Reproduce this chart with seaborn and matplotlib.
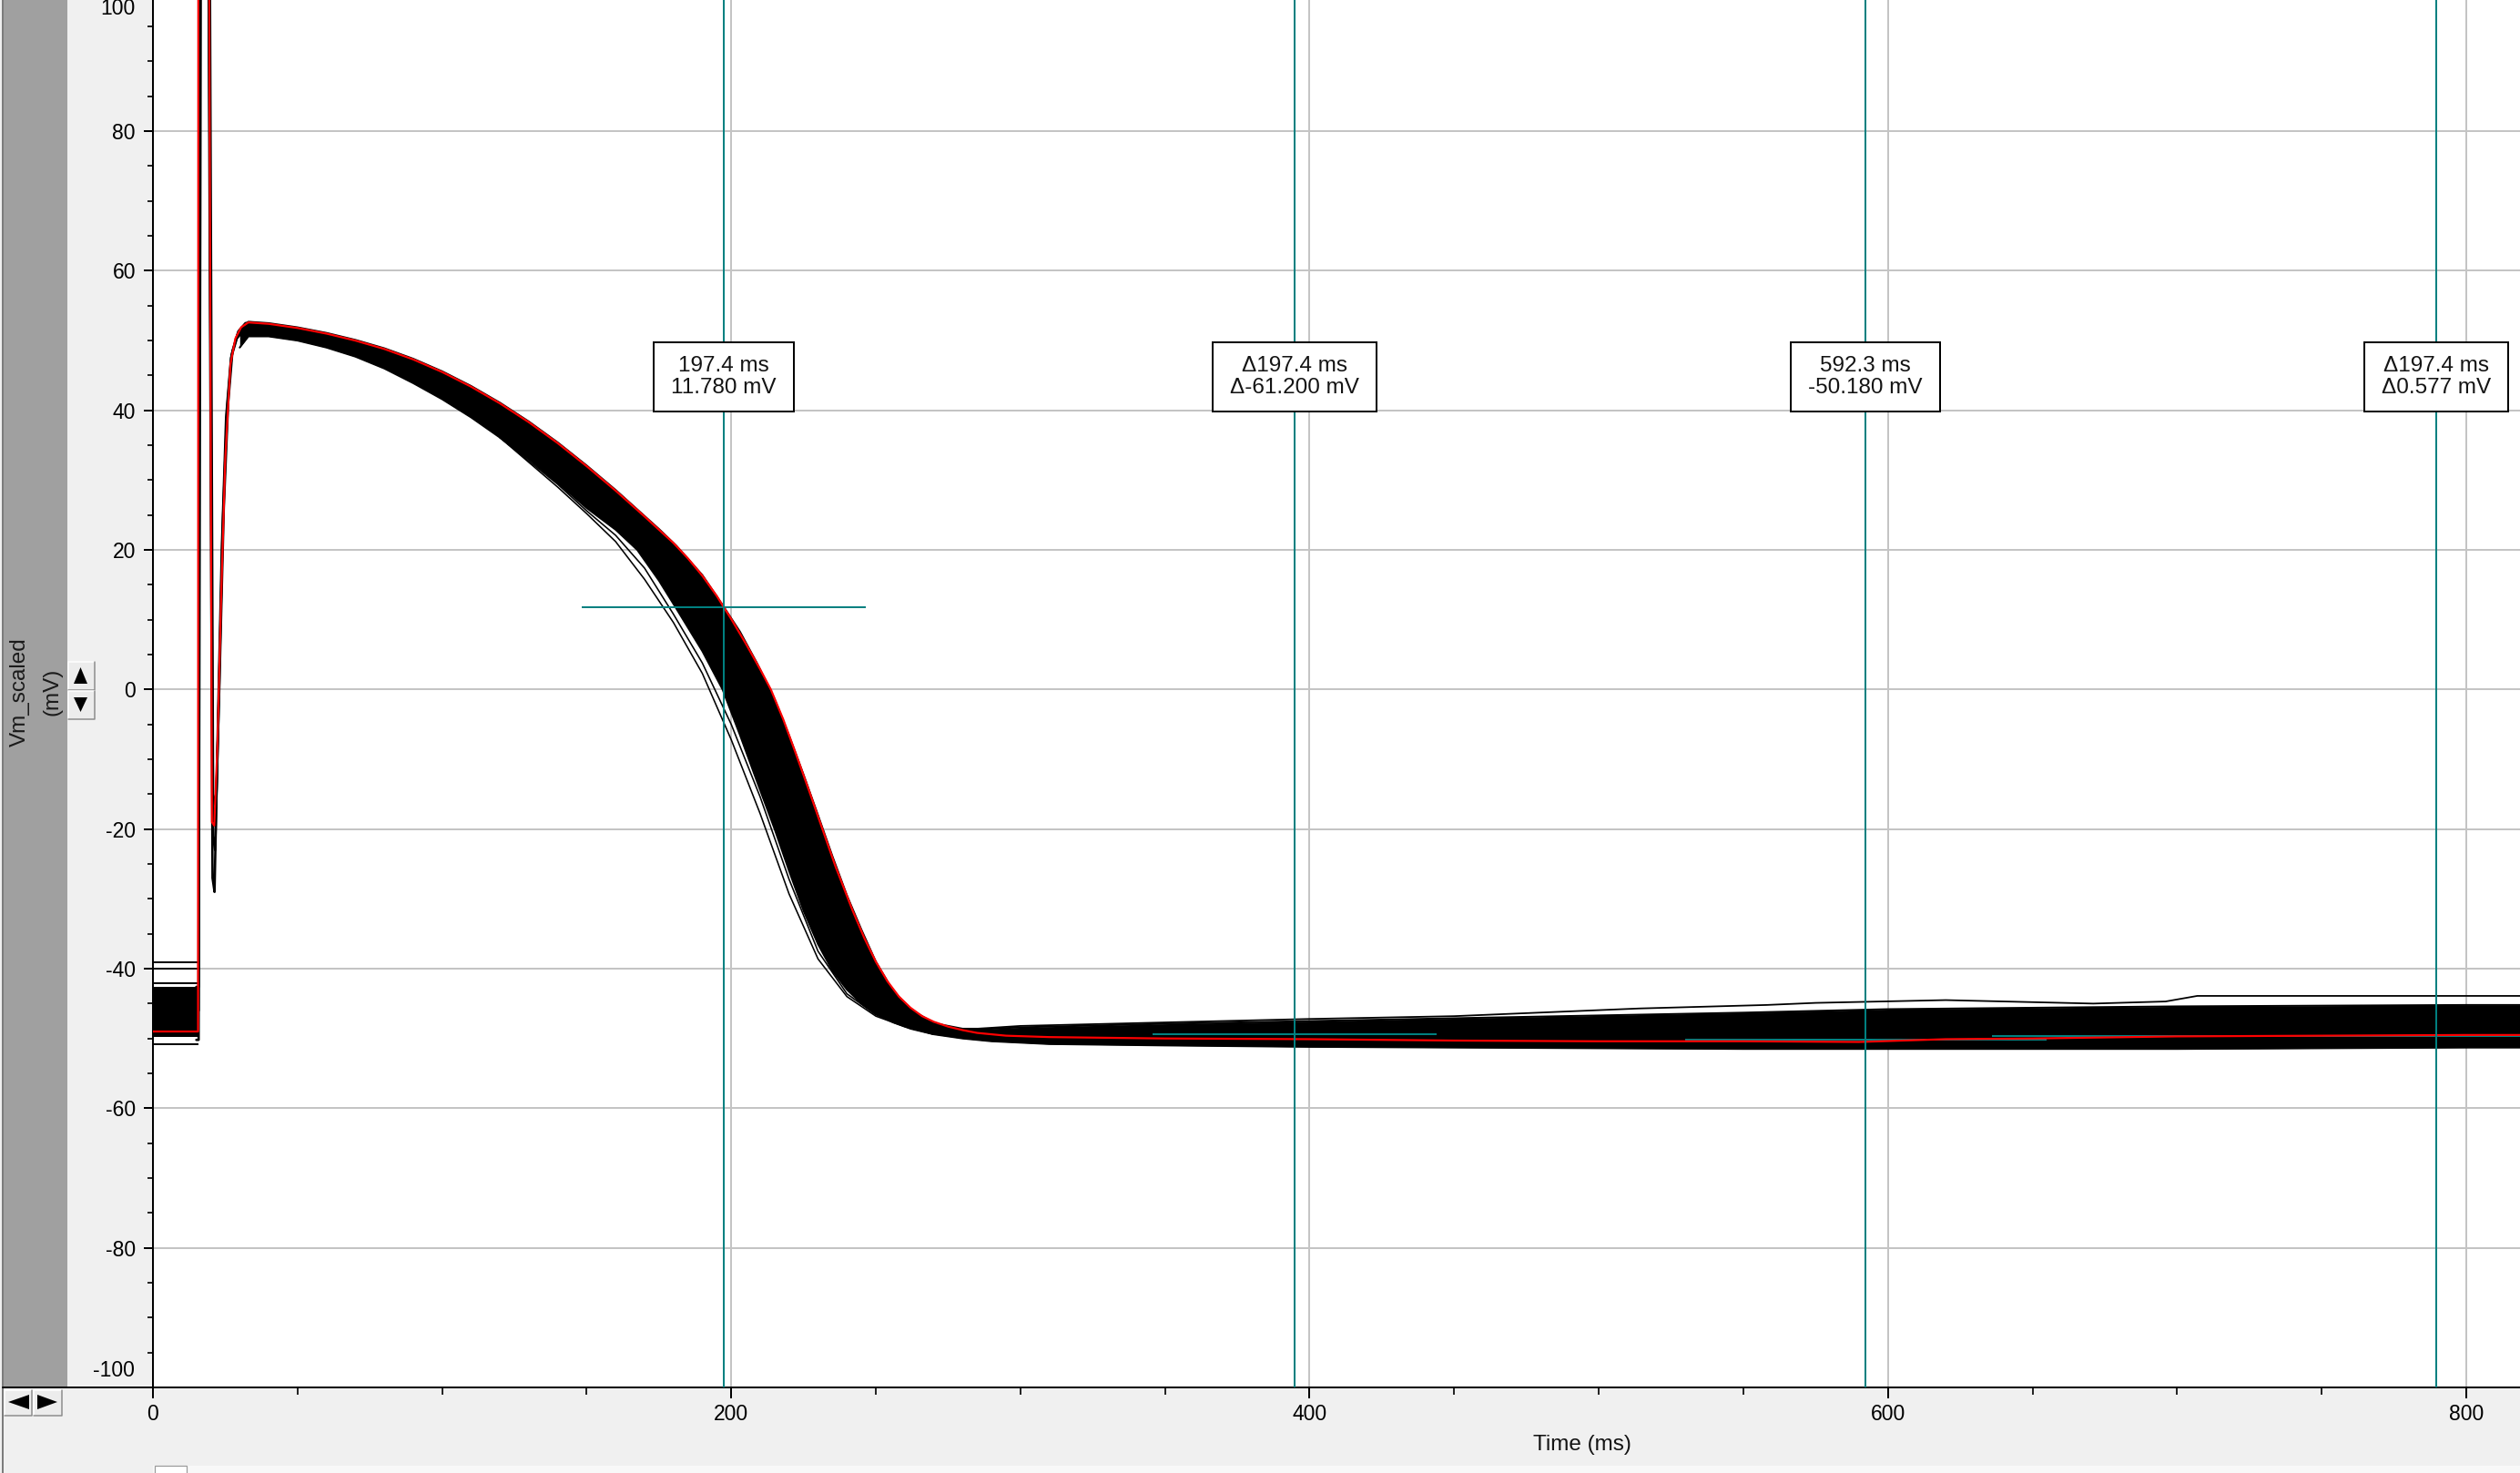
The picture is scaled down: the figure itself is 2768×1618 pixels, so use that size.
import matplotlib
matplotlib.use("Agg")
import matplotlib.pyplot as plt
from matplotlib.patches import Rectangle, Polygon
from matplotlib.lines import Line2D
from matplotlib.ticker import MultipleLocator
import seaborn as sns

# ---------------- data ----------------
# pre-stimulus baseline block of the black sweeps
pre_t = [0.0, 15.8]
pre_hi = [-42.6, -42.6]
pre_lo = [-49.8, -49.8]
pre_line_v = [-39.1, -40.0, -42.1, -50.8]

# envelope of the overlaid black sweeps (time in ms, Vm in mV)
band_t = [30, 33, 40, 50, 60, 70, 80, 90, 100, 110,
          120, 130, 140, 150, 160, 167.5, 175, 181, 190, 197,
          203, 209, 215, 220, 225, 230, 235, 240, 245, 250,
          256, 262, 270, 280, 290, 300, 310, 350, 400, 450,
          500, 550, 600, 650, 700, 750, 800, 818.6]
band_hi = [51.6, 52.7, 52.5, 51.9, 51.1, 50.1, 48.9, 47.4, 45.6, 43.5,
           41.1, 38.4, 35.4, 32.1, 28.6, 25.8, 23.0, 20.6, 16.4, 12.1,
           8.3, 3.7, -1.4, -6.6, -12.2, -18.0, -23.9, -29.5, -34.4, -39.0,
           -43.2, -45.8, -47.8, -48.6, -48.6, -48.4, -48.3, -47.9, -47.5, -47.1,
           -46.7, -46.3, -45.8, -45.6, -45.4, -45.3, -45.2, -45.2]
band_lo = [49.0, 50.6, 50.6, 50.0, 49.0, 47.7, 46.0, 43.9, 41.6, 39.0,
           36.1, 33.0, 29.6, 26.0, 22.9, 20.0, 15.6, 11.6, 5.5, 0.0,
           -6.5, -13.3, -20.0, -26.0, -31.7, -36.5, -40.3, -43.0, -45.0, -46.5,
           -47.7, -48.6, -49.4, -50.0, -50.4, -50.6, -50.8, -51.0, -51.2, -51.3,
           -51.4, -51.5, -51.5, -51.5, -51.5, -51.4, -51.3, -51.3]

# stimulus artefact / upstroke of three sweeps
spk1_t = [15.0, 15.8, 16.0, 18.9, 20.6, 21.3, 22.4, 23.8, 25.3, 27.0, 29.0, 31.0, 33.0]
spk1_v = [-42.6, -42.6, 135, 135, -27.0, -29.0, -6.0, 20.0, 39.0, 47.5, 50.3, 51.3, 51.6]
spk2_t = [15.0, 15.8, 16.7, 19.4, 20.8, 21.8, 23.0, 24.5, 26.0, 27.5, 29.5, 32.0, 34.0]
spk2_v = [-50.2, -50.2, 135, 135, -15.0, -17.0, 1.0, 26.0, 41.0, 48.5, 51.3, 52.5, 52.6]
spk3_t = [15.0, 15.8, 16.3, 19.0, 20.7, 21.5, 22.7, 24.1, 25.6, 27.2, 29.2, 31.5, 33.5]
spk3_v = [-46.0, -46.0, 135, 135, -21.0, -23.0, -3.0, 23.0, 40.0, 48.0, 50.8, 51.9, 52.1]

# thin outlying sweeps
early_out_t = [120, 140, 150, 160, 170, 180, 190, 200, 210, 220, 230, 240, 250, 260, 270]
early_out1_v = [36.1, 29.0, 25.2, 21.2, 15.8, 9.6, 2.3, -7.2, -17.8, -29.3, -38.6, -44.0, -46.8, -48.3, -49.4]
early_out2_v = [36.1, 29.4, 25.6, 22.1, 17.4, 10.8, 3.8, -5.0, -15.4, -27.2, -37.5, -43.6, -46.6, -48.2, -49.4]
post_out_t = [285, 300, 350, 400, 450, 514, 558, 575, 620, 671, 696, 707, 818.6]
post_out_v = [-48.6, -48.2, -47.7, -47.2, -46.8, -45.7, -45.2, -44.9, -44.5, -45.0, -44.7, -43.9, -43.9]

# highlighted (red) sweep
red_t = [0, 15.6, 15.7, 19.2, 20.4, 21.2, 22.3, 23.5, 25.0, 26.8,
         28.5, 30.5, 33, 40, 50, 60, 70, 80, 90, 100,
         110, 120, 130, 140, 150, 160, 170, 180, 185, 190,
         195, 197.4, 200, 205, 210, 213.7, 218, 222, 227, 231.7,
         236, 242, 246, 250, 254, 258, 262, 266, 270, 275,
         280, 285, 290, 295, 310, 350, 400, 450, 500, 550,
         590, 620, 650, 700, 750, 800, 818.6]
red_v = [-49.0, -49.0, 135, 135, -19.0, -19.5, -8.0, 12.0, 33.0, 46.6,
         50.3, 51.9, 52.6, 52.4, 51.8, 51.0, 50.0, 48.8, 47.3, 45.5,
         43.4, 41.0, 38.3, 35.3, 32.0, 28.5, 24.8, 21.0, 18.8, 16.3,
         13.4, 11.8, 10.1, 6.6, 2.9, 0.0, -4.3, -8.8, -14.6, -20.2,
         -25.3, -31.7, -35.6, -39.0, -41.8, -44.0, -45.6, -46.8, -47.6, -48.3,
         -48.8, -49.2, -49.4, -49.6, -49.8, -50.0, -50.1, -50.3, -50.4, -50.4,
         -50.5, -50.1, -50.0, -49.7, -49.6, -49.5, -49.5]

# cursors
cursor_t = [197.4, 394.8, 592.3, 789.7]
cursor_v = [11.78, -49.42, -50.18, -49.60]
cross_from = [148.3, 345.8, 530.0, 636.0]
cross_to = [246.5, 443.8, 655.0, 818.6]
box_text = ["197.4 ms\n11.780 mV",
            "\u0394197.4 ms\n\u0394-61.200 mV",
            "592.3 ms\n-50.180 mV",
            "\u0394197.4 ms\n\u03940.577 mV"]

x_major = [0, 200, 400, 600, 800]
y_major = [-80, -60, -40, -20, 0, 20, 40, 60, 80]

# ---------------- figure ----------------
W, H, DPI = 2768, 1618, 100
PT = 72.0 / DPI

sns.set_style("ticks")
plt.rcParams['font.family'] = ['Liberation Sans', 'DejaVu Sans']
plt.rcParams['axes.unicode_minus'] = False

TEAL = '#008080'
fig = plt.figure(figsize=(W / DPI, H / DPI), dpi=DPI, facecolor='#f0f0f0')

def fx(x):
    return x / W

def fy(y):
    return 1 - y / H

AX_L, AX_B = 168, 1524
ax = fig.add_axes([fx(AX_L), fy(AX_B), (W - AX_L) / W, AX_B / H])
ax.set_facecolor('white')
ax.set_xlim(0, 818.6)
ax.set_ylim(-100, 98.8)

ax.set_xticks(x_major)
ax.xaxis.set_minor_locator(MultipleLocator(50))
ax.set_yticks(y_major)
ax.yaxis.set_minor_locator(MultipleLocator(5))
ax.tick_params(axis='y', which='major', length=10 * PT, width=2 * PT, pad=9 * PT,
               labelsize=16.5, color='black', labelcolor='black', direction='out')
ax.tick_params(axis='y', which='minor', length=6 * PT, width=2 * PT, direction='out')
ax.tick_params(axis='x', which='major', length=12 * PT, width=2 * PT, pad=6 * PT,
               labelsize=16.5, color='black', labelcolor='black', direction='out')
ax.tick_params(axis='x', which='minor', length=8 * PT, width=2 * PT, direction='out')
ax.grid(True, which='major', color='#c4c4c4', linewidth=2 * PT)
ax.set_axisbelow(True)
for s in ['top', 'right']:
    ax.spines[s].set_visible(False)
for s in ['left', 'bottom']:
    ax.spines[s].set_color('black')
    ax.spines[s].set_linewidth(2 * PT)
ax.set_xlabel('')
ax.set_ylabel('')

# ---- black sweeps ----
ax.fill_between(pre_t, pre_lo, pre_hi, color='black', lw=0, zorder=2)
ax.hlines(pre_line_v, pre_t[0], pre_t[-1], color='black', lw=2 * PT, zorder=2)
ax.fill_between(band_t, band_lo, band_hi, color='black', lw=0, zorder=2)
common = dict(ax=ax, estimator=None, sort=False, legend=False, errorbar=None)
sns.lineplot(x=band_t, y=band_hi, color='black', lw=2 * PT, zorder=2, **common)
sns.lineplot(x=band_t, y=band_lo, color='black', lw=2 * PT, zorder=2, **common)
for st, sv in [(spk1_t, spk1_v), (spk2_t, spk2_v), (spk3_t, spk3_v)]:
    sns.lineplot(x=st, y=sv, color='black', lw=2.6 * PT, zorder=2, **common)
sns.lineplot(x=early_out_t, y=early_out1_v, color='black', lw=1.6 * PT, zorder=2, **common)
sns.lineplot(x=early_out_t, y=early_out2_v, color='black', lw=1.6 * PT, zorder=2, **common)
sns.lineplot(x=post_out_t, y=post_out_v, color='black', lw=1.8 * PT, zorder=2, **common)

# ---- cursor crosshairs (under red) ----
ax.hlines(cursor_v, cross_from, cross_to, color=TEAL, lw=2 * PT, zorder=3)

# ---- red sweep ----
sns.lineplot(x=red_t, y=red_v, color='#ff0000', lw=2.2 * PT, zorder=4, **common)

# ---- vertical cursors ----
for t in cursor_t:
    ax.axvline(t, color=TEAL, lw=2 * PT, zorder=5)

# ---- cursor boxes ----
BOX_TOP, BOX_BOT, BOX_MID = 49.75, 39.84, 44.8
texts = []
for t, s in zip(cursor_t, box_text):
    texts.append(ax.text(t, BOX_MID, s, ha='center', va='center', fontsize=17.5,
                         linespacing=1.15, color='#141414', zorder=7))
fig.canvas.draw()
rend = fig.canvas.get_renderer()
inv = ax.transData.inverted()
for tx in texts:
    bb = tx.get_window_extent(rend)
    (d0, _), (d1, _) = inv.transform([(bb.x0 - 19, 0), (bb.x1 + 19, 0)])
    ax.add_patch(Rectangle((d0, BOX_BOT), d1 - d0, BOX_TOP - BOX_BOT,
                           facecolor='white', edgecolor='black', lw=2 * PT, zorder=6))

# ---------------- window chrome ----------------
def rect(x0, y0, x1, y1, **kw):
    fig.add_artist(Rectangle((fx(x0), fy(y1)), (x1 - x0) / W, (y1 - y0) / H,
                             transform=fig.transFigure, **kw))

def line(xs, ys, **kw):
    fig.add_artist(Line2D([fx(x) for x in xs], [fy(y) for y in ys],
                          transform=fig.transFigure, **kw))

def poly(pts, **kw):
    fig.add_artist(Polygon([(fx(x), fy(y)) for x, y in pts], closed=True,
                           transform=fig.transFigure, **kw))

def button(x0, y0, x1, y1):
    rect(x0, y0, x1, y1, facecolor='#ececec', edgecolor='none')
    line([x0, x0, x1], [y1, y0, y0], color='white', lw=1.5 * PT)
    line([x0, x1, x1], [y1, y1, y0], color='#8c8c8c', lw=1.5 * PT)

# grey strip and left edge
rect(4, 0, 74, 1524, facecolor='#a0a0a0', edgecolor='none')
line([3, 3], [0, 1618], color='#7c7c7c', lw=2 * PT)
line([3, 168], [1524, 1524], color='black', lw=2 * PT)

# spin buttons on the y axis
button(75, 727, 104, 758)
button(75, 759, 104, 790)
poly([(81, 751), (96, 751), (88.5, 733)], facecolor='black', edgecolor='none')
poly([(81, 766), (96, 766), (88.5, 782)], facecolor='black', edgecolor='none')

# scroll buttons bottom-left
button(5, 1527, 35, 1555)
button(37, 1527, 68, 1555)
poly([(9, 1540), (32, 1532), (32, 1548)], facecolor='black', edgecolor='none')
poly([(63, 1540), (41, 1532), (41, 1548)], facecolor='black', edgecolor='none')

# scrollbar strip at the very bottom
rect(168, 1610, 2768, 1618, facecolor='#f8f8f8', edgecolor='none')
rect(170, 1610, 205, 1619, facecolor='white', edgecolor='#9a9a9a', lw=1.2 * PT)

# axis texts
fig.text(fx(22), fy(760), 'Vm_scaled', rotation=90, ha='center', va='center',
         fontsize=17.5, color='#1a1a1a')
fig.text(fx(57), fy(760), '(mV)', rotation=90, ha='center', va='center',
         fontsize=17.5, color='#1a1a1a')
fig.text(fx(148), fy(10), '100', ha='right', va='center', fontsize=16.5, color='black')
fig.text(fx(148), fy(1506), '-100', ha='right', va='center', fontsize=16.5, color='black')
fig.text(fx(1738), fy(1587), 'Time (ms)', ha='center', va='center', fontsize=17.5,
         color='#141414')

fig.savefig('out.png', dpi=DPI, facecolor=fig.get_facecolor())
